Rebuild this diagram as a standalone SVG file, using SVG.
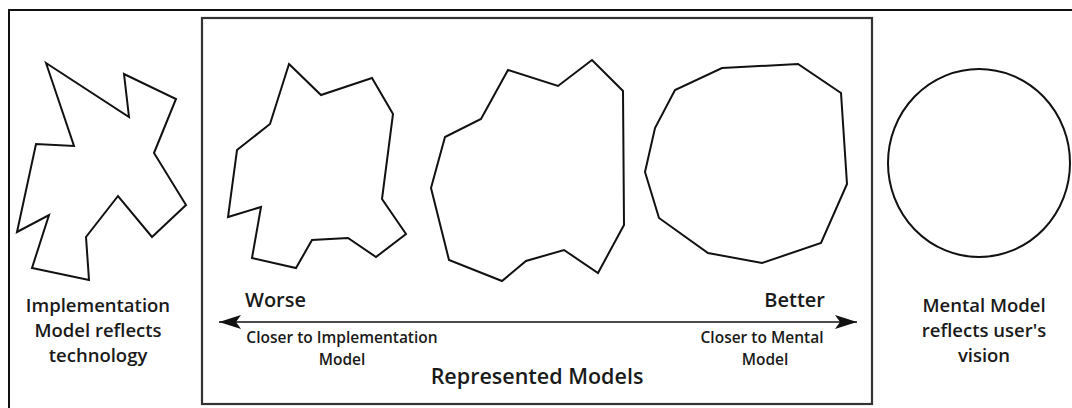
<svg xmlns="http://www.w3.org/2000/svg" width="1072" height="408" viewBox="0 0 1072 408">
  <style>
    .frame { fill: none; stroke: #111; stroke-width: 2; }
    .panel { fill: none; stroke: #333; stroke-width: 2.2; }
    .shape { fill: #fff; stroke: #111; stroke-width: 2; stroke-linejoin: miter; }
    .label { font-family: "Open Sans", "Liberation Sans", sans-serif; font-weight: 600; fill: #1a1a1a; text-anchor: middle; }
    .big { font-size: 18.5px; }
    .end { font-size: 20px; }
    .small { font-size: 15.5px; }
    .title { font-size: 21.5px; }
    .axis { stroke: #111; stroke-width: 1.5; fill: none; }
  </style>
  <defs>
    <marker id="barb" viewBox="0 0 24 16" refX="23" refY="8" markerWidth="24" markerHeight="16" markerUnits="userSpaceOnUse" orient="auto-start-reverse">
      <path d="M23,8 L1,1 L6,8 L1,15 Z" fill="#111"/>
    </marker>
  </defs>

  <rect width="1072" height="408" fill="#fff"/>

  <!-- outer frame: only top and left edges fall inside the view -->
  <path class="frame" d="M9,410 L9,10 L1080,10"/>

  <!-- implementation model -->
  <g id="implementation-model">
    <polygon class="shape" points="46,63 129,117 124,74 176,99 154,153 186,205 152,237 118,196 86,237 89,280 32,268 49,215 17,232 36,144 74,146"/>
    <text class="label big"><tspan x="98" y="312">Implementation</tspan><tspan x="98" y="337">Model reflects</tspan><tspan x="98" y="362">technology</tspan></text>
  </g>

  <!-- represented models panel -->
  <g id="represented-models">
    <rect class="panel" x="202" y="18" width="670" height="386"/>
    <text class="label title" x="537" y="384">Represented Models</text>
  </g>

  <g id="model-worse">
    <polygon class="shape" points="289,64 321,95 372,78 393,114 382,199 406,234 376,257 348,238 312,240 296,268 252,258 261,207 228,217 237,150 270,124"/>
  </g>

  <g id="model-middle">
    <polygon class="shape" points="508,70 558,86 592,60 623,91 624,225 598,273 564,250 526,261 502,281 449,260 431,188 445,137 481,119"/>
  </g>

  <g id="model-better">
    <polygon class="shape" points="722,68 798,64 841,93 847,184 821,243 762,263 708,253 659,218 645,172 655,128 675,90"/>
  </g>

  <!-- mental model -->
  <g id="mental-model">
    <ellipse class="shape" cx="979" cy="163" rx="91" ry="94"/>
    <text class="label big"><tspan x="984" y="312">Mental Model</tspan><tspan x="984" y="337">reflects user's</tspan><tspan x="984" y="362">vision</tspan></text>
  </g>

  <!-- scale from worse to better -->
  <g id="connectors">
    <line class="axis" x1="219" y1="322" x2="857" y2="322" marker-start="url(#barb)" marker-end="url(#barb)"/>
  </g>

  <g id="scale-labels">
    <text class="label end" x="245" y="307" style="text-anchor:start">Worse</text>
    <text class="label end" x="825" y="307" style="text-anchor:end">Better</text>
    <text class="label small"><tspan x="342" y="343">Closer to Implementation</tspan><tspan x="342" y="365">Model</tspan></text>
    <text class="label small"><tspan x="762" y="343">Closer to Mental</tspan><tspan x="765" y="365">Model</tspan></text>
  </g>
</svg>
